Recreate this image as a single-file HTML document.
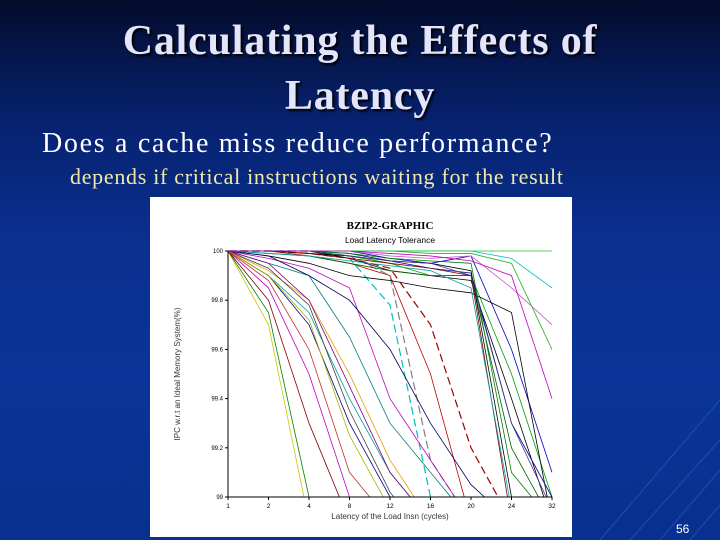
<!DOCTYPE html>
<html><head><meta charset="utf-8"><style>
html,body{margin:0;width:720px;height:540px;overflow:hidden;font-family:"Liberation Serif",serif;}
#slide{position:absolute;left:0;top:0;width:720px;height:540px;overflow:hidden;background:linear-gradient(180deg,#040c2c 0%,#07216e 22%,#0a3090 45%,#0a3499 70%,#08308f 100%);}
.t{position:absolute;white-space:nowrap;}
svg{display:block}
</style></head><body>
<div id="slide">
<svg style="position:absolute;left:0;top:0" width="720" height="540">
<g stroke="#2a58b8" stroke-width="1.5" fill="none" opacity="0.5">
<path d="M600 540 L720 400"/><path d="M630 540 L720 440"/><path d="M660 540 L720 470"/><path d="M690 540 L720 505"/>
</g></svg>
<div class="t" style="left:0;width:720px;top:14px;text-align:center;font-size:42px;font-weight:bold;letter-spacing:0.8px;line-height:55px;color:#e4e4fa;text-shadow:2px 2px 2px #000;white-space:normal">Calculating the Effects of<br>Latency</div>
<div class="t" style="left:42px;top:128px;font-size:28px;letter-spacing:1.7px;color:#fff">Does a cache miss reduce performance?</div>
<div class="t" style="left:70px;top:164px;font-size:22px;letter-spacing:0.7px;color:#f2eaa8">depends if critical instructions waiting for the result</div>
<div class="t" style="left:676px;top:522px;font-family:'Liberation Sans',sans-serif;font-size:12px;color:#fff">56</div>
<svg id="chart" style="position:absolute;left:150px;top:197px" width="422" height="340"></svg>
</div>
<script>
const categories=["1","2","4","8","12","16","20","24","32"];
const yTicks=[100,99.8,99.6,99.4,99.2,99];
const yTickLabels=["100","99.8","99.6","99.4","99.2","99"];
const s1=[100,99.7,98.9,98,98,98,98,98,98];
const s2=[100,99.75,99,98,98,98,98,98,98];
const s3=[100,99.8,99.3,98.9,98,98,98,98,98];
const s4=[100,99.85,99.5,99,98.8,98,98,98,98];
const s5=[100,99.9,99.7,99.3,99,98.8,98,98,98];
const s6=[100,99.9,99.75,99.4,99.1,98.9,98,98,98];
const s7=[100,99.92,99.8,99.5,99.15,98.9,98,98,98];
const s8=[100,99.95,99.9,99.65,99.3,99.1,98.9,98,98];
const s9=[100,99.95,99.8,99.45,99.1,98.9,98,98,98];
const s10=[100,99.93,99.78,99.35,99.02,98.8,98,98,98];
const s11=[100,100,99.98,99.95,99.9,99.5,98.9,98,98];
const s12=[100,100,100,99.97,99.78,99,98.5,98,98];
const s13=[100,100,100,99.98,99.9,99.15,98.9,98,98];
const s14=[100,100,100,99.97,99.92,99.9,99.88,99.4,98.9];
const s15=[100,100,100,99.98,99.95,99.9,99.9,99.5,99];
const s16=[100,100,100,100,99.97,99.95,99.98,99.6,99.1];
const s17=[100,100,100,100,99.98,99.97,99.98,99.85,99.7];
const s18=[100,100,100,100,100,99.99,99.99,99.95,99.6];
const s19=[100,100,100,100,100,100,100,99.97,99.85];
const s20=[100,100,100,100,100,100,100,100,100];
const s21=[100,99.98,99.95,99.9,99.88,99.85,99.83,99.75,98.9];
const s22=[100,99.97,99.93,99.85,99.4,99.15,98.9,98,98];
const s23=[100,99.99,99.98,99.95,99.92,99.9,99.9,99.2,98.9];
const s24=[100,99.98,99.9,99.8,99.6,99.3,99.05,98.9,98];
const s25=[100,100,99.99,99.97,99.93,99.7,99.2,98.9,98];
const s26=[100,99.9,99.72,99.25,98.95,98,98,98,98];
const s27=[100,100,100,99.99,99.96,99.93,99.91,99.3,99];
const s28=[100,99.88,99.6,99.1,98.9,98,98,98,98];
const s29=[100,100,99.99,99.98,99.96,99.95,99.92,99.0,98.9];
const s30=[100,100,100,99.99,99.97,99.96,99.95,99.1,98.9];
const s31=[100,100,99.99,99.97,99.95,99.93,99.9,98.9,98];
const s32=[100,99.99,99.98,99.96,99.94,99.92,99.85,98.95,98];
const s33=[100,100,100,99.98,99.96,99.95,99.9,99.3,98.95];
const s34=[100,100,100,100,99.99,99.98,99.96,99.9,99.4];
const series=[s1,s2,s3,s4,s5,s6,s7,s8,s9,s10,s11,s12,s13,s14,s15,s16,s17,s18,s19,s20,s21,s22,s23,s24,s25,s26,s27,s28,s29,s30,s31,s32,s33,s34];
const colors=["#c8c800","#008000","#800000","#c000c0","#000080","#00a0a0","#e0a000","#008080","#800080","#404040","#c00000","#00c0c0","#808080","#000000","#00a000","#0000c0","#c060c0","#20b020","#00c0c0","#20c020","#000000","#c000c0","#006000","#000060","#a00000","#b0b000","#0000a0","#c03030","#000000","#008000","#800000","#00a0a0","#404080","#c000c0"];
const dashed=[11,12,24];
const NS="http://www.w3.org/2000/svg";
const svg=document.getElementById('chart');
const X0=78,X1=402,Y0=54,Y1=300;
const xs=i=>X0+(X1-X0)*i/(categories.length-1);
const ys=v=>Y1-(v-99)*(Y1-Y0);
function mk(t,a,p){const e=document.createElementNS(NS,t);for(const k in a)e.setAttribute(k,a[k]);(p||svg).appendChild(e);return e;}
const bg=mk('rect',{x:0,y:0,width:422,height:340,fill:'#fff'});


const defs=mk('defs',{});
const cp=mk('clipPath',{id:'plotclip'},defs);
mk('rect',{x:X0,y:Y0-1,width:X1-X0+1,height:Y1-Y0+1},cp);
let t=mk('text',{x:240,y:32,'text-anchor':'middle','font-family':'Liberation Serif','font-weight':'bold','font-size':'11'});
t.textContent='BZIP2-GRAPHIC';


t=mk('text',{x:240,y:46,'text-anchor':'middle','font-family':'Liberation Sans','font-size':'8.5'});
t.textContent='Load Latency Tolerance';


const g=mk('g',{'clip-path':'url(#plotclip)'});


series.forEach((s,k)=>{
 const p=mk('polyline',{points:s.map((v,i)=>xs(i)+','+ys(v)).join(' '),fill:'none',stroke:colors[k],'stroke-width':dashed.includes(k)?1.2:0.8},g);
 if(dashed.includes(k))p.setAttribute('stroke-dasharray','8,4');
 
 
});
const ax=mk('path',{d:`M${X0} ${Y0} V${Y1} H${X1}`,stroke:'#000','stroke-width':1,fill:'none'});


categories.forEach((c,i)=>{
 mk('line',{x1:xs(i),x2:xs(i),y1:Y1,y2:Y1+3,stroke:'#000'});
 const l=mk('text',{x:xs(i),y:Y1+11,'text-anchor':'middle','font-family':'Liberation Sans','font-size':'6.5'});
 l.textContent=c;
 
 
});
yTicks.forEach((v,i)=>{
 mk('line',{x1:X0-3,x2:X0,y1:ys(v),y2:ys(v),stroke:'#000'});
 const l=mk('text',{x:X0-5,y:ys(v)+2,'text-anchor':'end','font-family':'Liberation Sans','font-size':'6'});
 l.textContent=yTickLabels[i];
 
 
});
t=mk('text',{x:240,y:322,'text-anchor':'middle','font-family':'Liberation Sans','font-size':'8','fill':'#333'});
t.textContent='Latency of the Load Insn (cycles)';


t=mk('text',{x:30,y:177,'text-anchor':'middle','font-family':'Liberation Sans','font-size':'8','fill':'#333',transform:'rotate(-90 30 177)'});
t.textContent='IPC w.r.t an Ideal Memory System(%)';


</script>
</body></html>
